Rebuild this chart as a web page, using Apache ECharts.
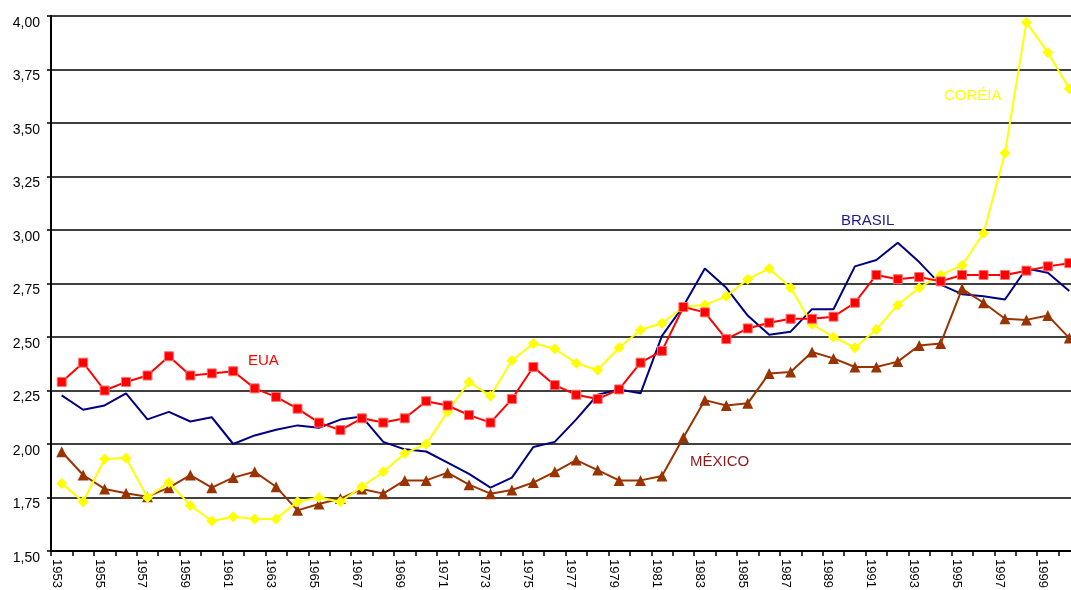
<!DOCTYPE html>
<html>
<head>
<meta charset="utf-8">
<script src="https://cdn.jsdelivr.net/npm/echarts@6/dist/echarts.min.js"></script>
<style>
  html, body { margin: 0; padding: 0; background: #fff; }
  #chart { width: 1071px; height: 590px; }
</style>
</head>
<body>
<div id="chart"></div>
<script>
// anos 1953..2000 (o último fica cortado na borda direita)
var anos = [];
for (var a = 1953; a <= 2000; a++) anos.push(String(a));

var eua = [2.29, 2.38, 2.25, 2.29, 2.32, 2.41, 2.32, 2.33, 2.34, 2.26, 2.22, 2.165, 2.10, 2.065, 2.12,
  2.10, 2.12, 2.20, 2.18, 2.135, 2.10, 2.21, 2.36, 2.275, 2.23, 2.21, 2.255, 2.38, 2.435, 2.64,
  2.615, 2.49, 2.54, 2.567, 2.585, 2.585, 2.595, 2.66, 2.79, 2.77, 2.78, 2.76, 2.79, 2.79, 2.79,
  2.81, 2.83, 2.845];

var brasil = [2.227, 2.16, 2.18, 2.237, 2.115, 2.15, 2.105, 2.125, 2.00, 2.04, 2.067, 2.087, 2.076, 2.114, 2.128,
  2.01, 1.975, 1.965, 1.913, 1.86, 1.796, 1.843, 1.986, 2.01, 2.115, 2.23, 2.255, 2.237, 2.505, 2.645,
  2.82, 2.73, 2.60, 2.51, 2.525, 2.63, 2.63, 2.83, 2.86, 2.94, 2.85, 2.745, 2.70, 2.69, 2.675,
  2.82, 2.80, 2.715];

var coreia = [1.816, 1.73, 1.93, 1.935, 1.75, 1.82, 1.713, 1.64, 1.66, 1.65, 1.65, 1.73, 1.75, 1.73, 1.80,
  1.87, 1.956, 2.00, 2.15, 2.29, 2.224, 2.39, 2.47, 2.445, 2.377, 2.346, 2.45, 2.533, 2.564, 2.64,
  2.65, 2.69, 2.77, 2.82, 2.73, 2.56, 2.50, 2.45, 2.535, 2.65, 2.73, 2.79, 2.835, 2.985, 3.36,
  3.97, 3.83, 3.66];

var mexico = [1.964, 1.855, 1.79, 1.77, 1.754, 1.796, 1.855, 1.796, 1.843, 1.87, 1.80, 1.69, 1.72, 1.745, 1.79,
  1.768, 1.83, 1.83, 1.866, 1.81, 1.768, 1.785, 1.82, 1.87, 1.925, 1.878, 1.83, 1.83, 1.85, 2.03,
  2.205, 2.18, 2.19, 2.33, 2.336, 2.43, 2.40, 2.36, 2.36, 2.385, 2.46, 2.47, 2.725, 2.66, 2.585,
  2.58, 2.60, 2.495];

var yMin = 1.5, yMax = 4.0, yPasso = 0.25;

var myChart = echarts.init(document.getElementById('chart'), null, { renderer: 'canvas' });

var fonte = '15px Liberation Sans, Arial, sans-serif';

myChart.setOption({
  animation: false,
  backgroundColor: '#fff',
  // a area do grafico passa um pouco da borda direita, como no original
  grid: { left: 51, top: 16, width: 1029, height: 535, containLabel: false, outerBoundsMode: 'none' },
  xAxis: {
    type: 'category',
    data: anos,
    boundaryGap: true,
    axisLine: { lineStyle: { color: '#000', width: 2 } },
    axisTick: { show: true, length: 5, interval: 0, lineStyle: { color: '#000', width: 1.5 } },
    axisLabel: {
      interval: 1,
      rotate: -90,
      margin: 8,
      verticalAlign: 'top',
      lineHeight: 11,
      color: '#000',
      fontSize: 13,
      fontFamily: 'Liberation Sans, Arial, sans-serif'
    },
    splitLine: { show: false }
  },
  yAxis: {
    type: 'value',
    min: yMin,
    max: yMax,
    interval: yPasso,
    axisLine: { show: true, lineStyle: { color: '#000', width: 2 } },
    axisTick: { show: true, length: 4, lineStyle: { color: '#000', width: 1.5 } },
    axisLabel: {
      margin: 11,
      verticalAlign: 'top',
      color: '#000',
      fontSize: 14,
      fontFamily: 'Liberation Sans, Arial, sans-serif',
      formatter: function (v) { return v.toFixed(2).replace('.', ','); }
    },
    splitLine: { show: true, lineStyle: { color: '#000', width: 1.6 } }
  },
  series: [
    {
      name: 'BRASIL',
      type: 'line',
      data: brasil,
      symbol: 'none',
      lineStyle: { color: '#000080', width: 2 },
      itemStyle: { color: '#000080' },
      z: 3
    },
    {
      name: 'MÉXICO',
      type: 'line',
      data: mexico,
      symbol: 'triangle',
      symbolSize: 11,
      lineStyle: { color: '#993300', width: 2 },
      itemStyle: { color: '#993300' },
      z: 4
    },
    {
      name: 'CORÉIA',
      type: 'line',
      data: coreia,
      symbol: 'diamond',
      symbolSize: 11,
      lineStyle: { color: '#ffff00', width: 2 },
      itemStyle: { color: '#ffff00' },
      z: 5
    },
    {
      name: 'EUA',
      type: 'line',
      data: eua,
      symbol: 'rect',
      symbolSize: 9,
      lineStyle: { color: '#ff0000', width: 2 },
      itemStyle: { color: '#ff0000', borderColor: '#ff7070', borderWidth: 1 },
      z: 6
    }
  ],
  graphic: [
    { type: 'text', left: 248, top: 353, style: { text: 'EUA', fill: '#ff0000', font: fonte } },
    { type: 'text', left: 841, top: 213, style: { text: 'BRASIL', fill: '#1a1a8c', font: fonte } },
    { type: 'text', left: 944, top: 88, style: { text: 'CORÉIA', fill: '#ffff00', font: fonte } },
    { type: 'text', left: 690, top: 454, style: { text: 'MÉXICO', fill: '#8b1a1a', font: fonte } }
  ]
});
</script>
</body>
</html>
